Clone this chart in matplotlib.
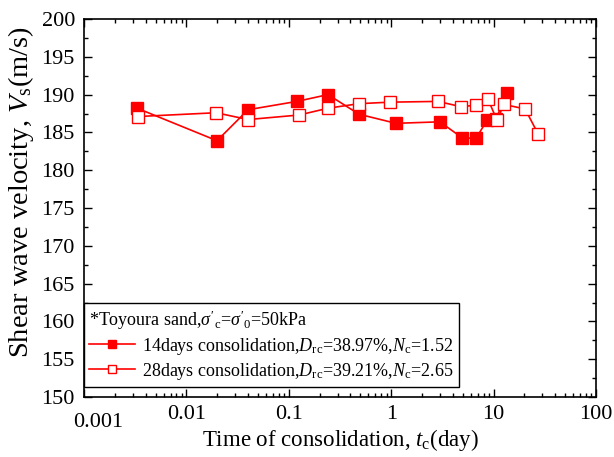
import matplotlib
matplotlib.use("Agg")
import matplotlib.pyplot as plt
from matplotlib.ticker import LogLocator, NullFormatter, MultipleLocator

plt.rcParams['font.family'] = ['Liberation Serif', 'DejaVu Serif']
plt.rcParams['mathtext.fontset'] = 'custom'
plt.rcParams['mathtext.rm'] = 'Liberation Serif'
plt.rcParams['mathtext.it'] = 'Liberation Serif:italic'
plt.rcParams['mathtext.bf'] = 'Liberation Serif:bold'

# 14 days consolidation
t14 = [0.0033, 0.0199, 0.0400, 0.120, 0.2415, 0.485, 1.114, 2.99, 4.91, 6.73, 8.62, 10.55, 13.5]
vs14 = [188.2, 183.9, 188.0, 189.1, 190.0, 187.4, 186.2, 186.4, 184.3, 184.2, 186.6, 186.8, 190.2]

# 28 days consolidation
t28 = [0.00337, 0.0195, 0.0400, 0.126, 0.2415, 0.485, 0.973, 2.86, 4.81, 6.73, 8.81, 10.8, 12.6, 20.3, 27.2]
vs28 = [187.1, 187.6, 186.7, 187.3, 188.2, 188.8, 189.0, 189.1, 188.4, 188.6, 189.4, 186.6, 188.7, 188.1, 184.8]

xticks = [0.001, 0.01, 0.1, 1, 10, 100]
xticklabels = ['0.001', '0.01', '0.1', '1', '10', '100']
yticks = [150, 155, 160, 165, 170, 175, 180, 185, 190, 195, 200]

label_title = r"*Toyoura sand,$\sigma'_{\mathrm{c}}$=$\sigma'_{0}$=50kPa"
label14 = r"14days consolidation,$D_{\mathrm{rc}}$=38.97%,$N_{\mathrm{c}}$=1.52"
label28 = r"28days consolidation,$D_{\mathrm{rc}}$=39.21%,$N_{\mathrm{c}}$=2.65"

red = '#ff0000'

fig = plt.figure(figsize=(6.14, 4.57), dpi=100)
ax = fig.add_axes([84 / 614, 1 - 397 / 457, 512 / 614, 378 / 457])

ax.plot(t14, vs14, color=red, lw=1.2, marker='s', ms=8.5,
        mfc=red, mec=red, mew=1.0, label=label14, zorder=3)
ax.plot(t28, vs28, color=red, lw=1.2, marker='s', ms=8.5,
        mfc='white', mec=red, mew=1.0, label=label28, zorder=3)

ax.set_xscale('log')
ax.set_xlim(0.001, 100)
ax.set_ylim(150, 200)
ax.set_xticks(xticks)
# the first decade label is drawn separately, offset down and right
ax.set_xticklabels([''] + xticklabels[1:])
ax.annotate(xticklabels[0], xy=(xticks[0], 0), xycoords=ax.get_xaxis_transform(),
            xytext=(10, -11.5), textcoords='offset points', ha='center', va='top',
            fontsize=16, annotation_clip=False)
ax.xaxis.set_minor_locator(LogLocator(base=10, subs=range(2, 10), numticks=20))
ax.xaxis.set_minor_formatter(NullFormatter())
ax.set_yticks(yticks)
ax.yaxis.set_minor_locator(MultipleLocator(2.5))

ax.tick_params(which='both', direction='in', top=True, right=True,
               labelsize=16, width=1.0)
ax.tick_params(which='major', length=6)
ax.tick_params(which='minor', length=3)
ax.tick_params(axis='x', which='major', pad=5.7)
ax.tick_params(axis='y', which='major', pad=6.5)
for s in ax.spines.values():
    s.set_linewidth(1.2)

ax.set_xlabel(r"Time of consolidation, $t_{\mathrm{c}}$(day)", fontsize=16.5)
ax.xaxis.set_label_coords(0.5, -0.079)
ax.set_ylabel(r"Shear wave velocity, $V_{\mathrm{s}}$(m/s)", fontsize=20.5)
ax.yaxis.set_label_coords(-0.094, 0.542)

leg = ax.legend(loc='lower left', bbox_to_anchor=(0, 10 / 378), borderaxespad=0,
                title=label_title, alignment='left', fontsize=13,
                title_fontproperties={'size': 13}, handlelength=2.55,
                handletextpad=0.39, borderpad=0.3, labelspacing=0.22,
                markerscale=0.6, fancybox=False, framealpha=1,
                edgecolor='black')
leg.get_frame().set_linewidth(1.0)

fig.savefig('out.png', dpi=100)
